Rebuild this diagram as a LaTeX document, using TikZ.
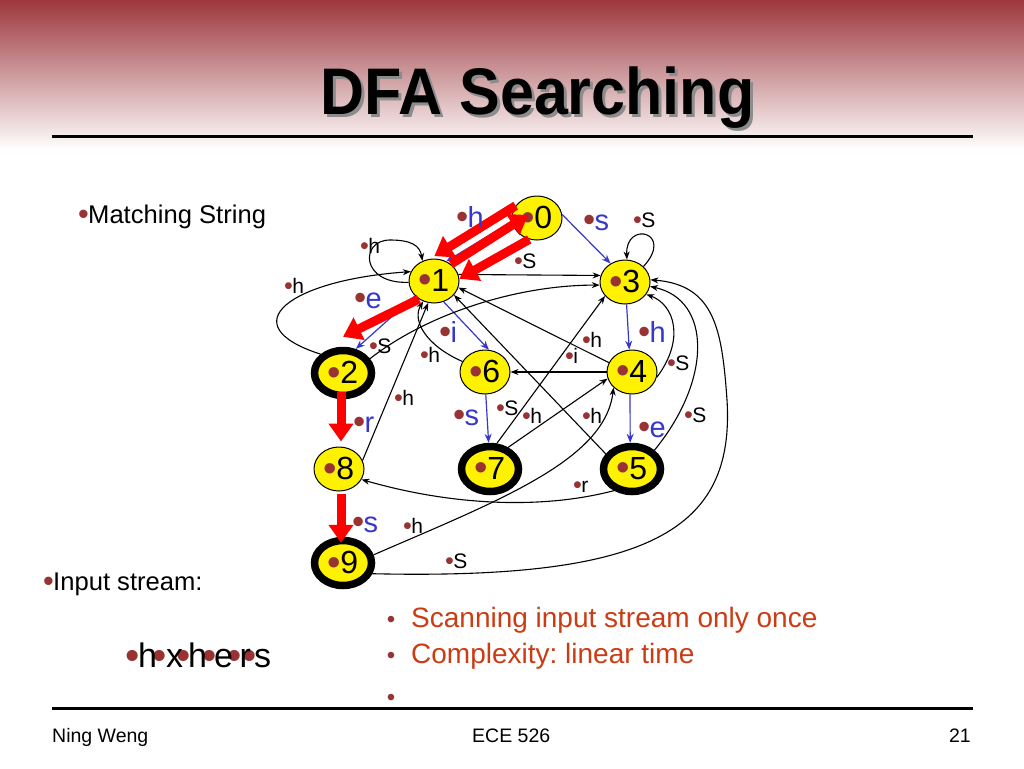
\documentclass[tikz,border=0pt]{standalone}
\usepackage{fontspec}
\setmainfont{Liberation Sans}
\usetikzlibrary{arrows.meta,shapes.geometric,calc}
\definecolor{bul}{RGB}{153,51,51}
\definecolor{eblue}{RGB}{55,55,205}
\definecolor{ored}{RGB}{204,60,20}
\definecolor{topred}{RGB}{150,42,48}
\definecolor{midred}{RGB}{196,128,130}
\newcommand{\bigdot}{\textcolor{bul}{\raisebox{-0.06em}{\scalebox{1.2}{\textbullet}}}}
\newcommand{\dotb}{\bigdot\kern-0.03em}
\newcommand{\fsz}[1]{\fontsize{#1}{#1}\selectfont}
\frenchspacing
\begin{document}
\begin{tikzpicture}[x=1pt,y=-1pt,
  stnode/.style={ellipse,draw=black,line width=1pt,fill=yellow,minimum width=50pt,minimum height=44pt,inner sep=0pt,font=\fsz{32}},
  fnode/.style={stnode,line width=7.5pt,minimum width=57pt,minimum height=45pt},
  kedge/.style={draw=black,line width=1.1pt,-{Stealth[length=8pt,width=6pt]}},
  bedge/.style={draw=eblue,line width=1.2pt,-{Stealth[length=9pt,width=7pt]}},
  redarrow/.style={draw=red,line width=9pt,-{Triangle[length=18pt,width=24pt]}},
  klab/.style={anchor=base west,inner sep=0pt,font=\fsz{21}},
  blab/.style={anchor=base west,inner sep=0pt,font=\fsz{29},text=eblue},
  txt/.style={anchor=base west,inner sep=0pt,font=\fsz{25.6}},
]
\useasboundingbox (0,0) rectangle (1024,768);
\fill[white] (0,0) rectangle (1024,768);
\shade[top color=topred,middle color=midred,bottom color=white] (0,-10) rectangle (1024,150);

% title
\node[anchor=base,font=\bfseries\fsz{61},text=black!45,inner sep=0pt,yscale=1.08] (tshadow) at (540.5,117) {DFA Searching};
\node[anchor=base,font=\bfseries\fsz{61},inner sep=0pt,yscale=1.08] (title) at (537.5,114) {DFA Searching};
\draw[line width=3pt] (52,136) -- (973,136);
\draw[line width=3pt] (52,708) -- (973,708);

% states
\node[stnode] (n0) at (537,218) {\dotb 0};
\node[stnode] (n1) at (434,281) {\dotb 1};
\node[fnode]  (n2) at (343,373) {\dotb 2};
\node[stnode] (n3) at (625,282) {\dotb 3};
\node[stnode] (n4) at (632,372) {\dotb 4};
\node[fnode]  (n5) at (632,469) {\dotb 5};
\node[stnode] (n6) at (485,372) {\dotb 6};
\node[fnode]  (n7) at (490,469) {\dotb 7};
\node[stnode] (n8) at (339,469) {\dotb 8};
\node[fnode]  (n9) at (343,563) {\dotb 9};

% blue transitions
\draw[bedge] (n0.188) -- (n1.58);
\draw[bedge] (n0.8) -- (n3.128);
\draw[bedge] (n1.218) -- (n2.62);
\draw[bedge] (n1.-65) -- (n6.80);
\draw[bedge] (n3.-86) -- (n4.97);
\draw[bedge] (n4.-95) -- (n5.94);
\draw[bedge] (n6.-88) -- (n7.93);

% black transitions
\draw[kedge] (n1.183) .. controls (360,284) and (360,240) .. (390,240) .. controls (412,240) and (420,246) .. (n1.120);
\draw[kedge] (n2.140) .. controls (230,325) and (290,280) .. (n1.158);
\draw[kedge] (n1.15) -- (n3.165);
\draw[kedge] (n2.28) .. controls (430,312) and (520,285) .. (n3.187);
\draw[kedge] (n3.40) .. controls (675,232) and (625,220) .. (n3.85);
\draw[kedge] (n4.-12) .. controls (685,340) and (675,305) .. (n3.-30);
\draw[kedge] (n5.40) .. controls (712,380) and (712,300) .. (n3.-10);
\draw[kedge] (n9.-20) .. controls (650,580) and (735,530) .. (727,400) .. controls (722,330) and (715,285) .. (n3.5);
\draw[kedge] (n8.20) -- (n1.-105);
\draw[kedge] (n6.155) .. controls (425,345) and (412,320) .. (n1.-118);
\draw[kedge] (n4.158) -- (n1.-15);
\draw[kedge] (n5.150) -- (n1.-35);
\draw[kedge] (n4) -- (n6);
\draw[kedge] (n7.75) -- (n3.-145);
\draw[kedge] (n7.50) -- (n4.-165);
\draw[kedge] (n5.-130) .. controls (540,510) and (450,505) .. (n8.-25);
\draw[kedge] (n9.15) .. controls (500,500) and (605,460) .. (n4.-140);

% matching path (red)
\draw[redarrow,shorten >=5pt] (n0.150) -- (n1.100);
\draw[redarrow] (n1.45) -- ($(n0.center)+(-9,-3)$);
\draw[redarrow] (n0.-110) -- (n1.5);
\draw[redarrow] (n1.-130) -- ($(n2.north)+(0,-10)$);
\draw[redarrow] ($(n2.south)+(-2,-7)$) -- ($(n8.north)+(2,-5)$);
\draw[redarrow] ($(n8.south)+(2,2)$) -- ($(n9.north)+(-2,6)$);

% labels
\node[blab] (lb1) at (456,227) {\dotb h};
\node[blab] (lb2) at (583,230) {\dotb s};
\node[klab] (lk1) at (633,227) {\dotb S};
\node[klab] (lk2) at (514,268) {\dotb S};
\node[klab] (lk3) at (360,253) {\dotb h};
\node[klab] (lk4) at (284,293) {\dotb h};
\node[blab] (lb3) at (354,308) {\dotb e};
\node[blab] (lb4) at (439,342) {\dotb i};
\node[klab] (lk5) at (369,353) {\dotb S};
\node[klab] (lk6) at (420,362) {\dotb h};
\node[klab] (lk7) at (394,405) {\dotb h};
\node[blab] (lb5) at (353,432) {\dotb r};
\node[blab] (lb6) at (453,425) {\dotb s};
\node[klab] (lk8) at (496,415) {\dotb S};
\node[klab] (lk9) at (522,423) {\dotb h};
\node[klab] (lk10) at (582,423) {\dotb h};
\node[klab] (lk11) at (582,347) {\dotb h};
\node[klab] (lk12) at (565,363) {\dotb i};
\node[blab] (lb7) at (638,342) {\dotb h};
\node[klab] (lk13) at (667,370) {\dotb S};
\node[blab] (lb8) at (638,437) {\dotb e};
\node[klab] (lk14) at (684,422) {\dotb S};
\node[klab] (lk15) at (573,492) {\dotb r};
\node[blab] (lb9) at (352,532) {\dotb s};
\node[klab] (lk16) at (403,533) {\dotb h};
\node[klab] (lk17) at (445,568) {\dotb S};

% texts
\node[txt] (match) at (78,223) {\dotb Matching String};
\node[txt] (input) at (43,590) {\dotb Input stream:};
\foreach \cx [count=\i] in {132.3,159.3,184,209.3,234.3,249.3}
  \node[anchor=base,inner sep=0pt,font=\fsz{34}] (sb\i) at (\cx,667) {\bigdot};
\foreach \lx/\ch [count=\i] in {138/h,166/x,188/h,214/e,239.5/r,254/s}
  \node[anchor=base west,inner sep=0pt,font=\fsz{34}] (sc\i) at (\lx,667) {\ch};

\node[anchor=base,inner sep=0pt,font=\fsz{24}] (ib1) at (391,627) {\textcolor{bul}{\textbullet}};
\node[anchor=base,inner sep=0pt,font=\fsz{24}] (ib2) at (391,663) {\textcolor{bul}{\textbullet}};
\node[anchor=base,inner sep=0pt,font=\fsz{24}] (ib3) at (391,705) {\textcolor{bul}{\textbullet}};
\node[anchor=base west,inner sep=0pt,font=\fsz{28},text=ored] (it1) at (411,627) {Scanning input stream only once};
\node[anchor=base west,inner sep=0pt,font=\fsz{28},text=ored] (it2) at (411,663) {Complexity: linear time};
\node[anchor=base west,inner sep=0pt,font=\fsz{14}] (it3) at (396,709) {.};

% footer
\node[anchor=base west,inner sep=0pt,font=\fsz{19.5}] (f1) at (52,742) {Ning Weng};
\node[anchor=base west,inner sep=0pt,font=\fsz{19.5}] (f2) at (472,742) {ECE 526};
\node[anchor=base east,inner sep=0pt,font=\fsz{19.5}] (f3) at (971,742) {21};
\end{tikzpicture}
\end{document}
